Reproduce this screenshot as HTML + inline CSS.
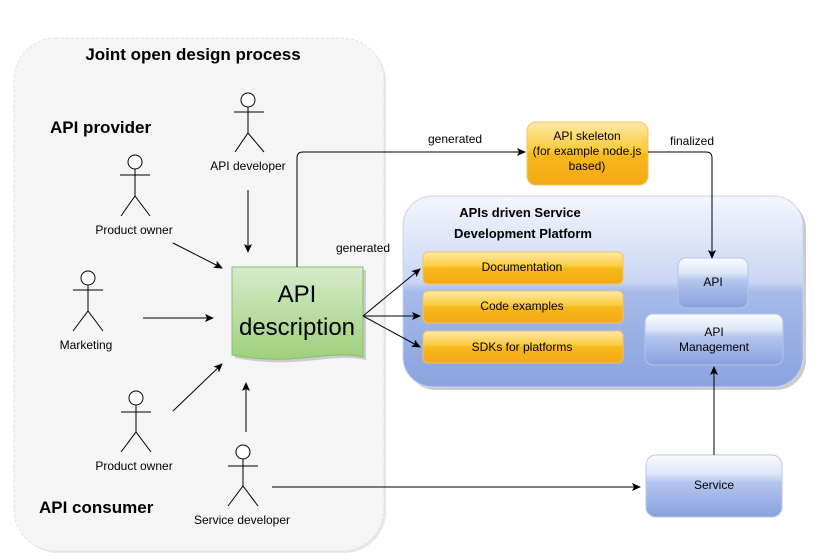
<!DOCTYPE html>
<html><head><meta charset="utf-8"><style>
html,body{margin:0;padding:0;background:#fff;}
svg{display:block;font-family:"Liberation Sans",sans-serif;}
</style></head><body>
<svg width="813" height="560" viewBox="0 0 813 560" xmlns="http://www.w3.org/2000/svg">
<defs>
<linearGradient id="og" x1="0" y1="0" x2="0" y2="1">
<stop offset="0" stop-color="#ffe9a8"/><stop offset="0.45" stop-color="#fbcb3a"/><stop offset="0.5" stop-color="#f7b918"/><stop offset="1" stop-color="#f4a918"/></linearGradient>
<linearGradient id="bg" x1="0" y1="0" x2="0" y2="1">
<stop offset="0" stop-color="#f3f6fd"/><stop offset="0.45" stop-color="#c9d6f3"/><stop offset="0.5" stop-color="#a6bbe9"/><stop offset="1" stop-color="#8aa3e0"/></linearGradient>
<linearGradient id="bbg" x1="0" y1="0" x2="0" y2="1">
<stop offset="0" stop-color="#fafcff"/><stop offset="0.3" stop-color="#dde6f8"/><stop offset="0.45" stop-color="#b3c5ee"/><stop offset="1" stop-color="#88a1df"/></linearGradient>
<linearGradient id="gg" x1="0" y1="0" x2="0" y2="1">
<stop offset="0" stop-color="#d6ebcc"/><stop offset="1" stop-color="#9ed07c"/></linearGradient>
<marker id="ar" markerWidth="10" markerHeight="10" refX="8" refY="4" orient="auto" markerUnits="userSpaceOnUse">
<path d="M0,0 L9,4 L0,8 L2,4 Z" fill="#000"/></marker>
</defs>
<rect x="16" y="40" width="370" height="513" rx="42" fill="#e6e6e6"/>
<rect x="14" y="38" width="370" height="513" rx="42" fill="#f5f5f5" stroke="#e0e0e0" stroke-dasharray="3,2"/>
<g font-weight="bold" fill="#000">
<text x="193" y="60" font-size="17" text-anchor="middle">Joint open design process</text>
<text x="50" y="133" font-size="17">API provider</text>
<text x="39" y="513" font-size="17">API consumer</text>
</g>
<g stroke="#000" stroke-width="1" fill="none">
<circle cx="248" cy="100" r="7" fill="#fff"/><path d="M248,107V133M234,112H264M235,152L248,133L264,152"/>
<circle cx="135" cy="162" r="7" fill="#fff"/><path d="M135,169V196M120,175H150M121,216L135,196L150,216"/>
<circle cx="88" cy="278" r="7" fill="#fff"/><path d="M88,285V311M73,290H103M73,331L88,311L103,331"/>
<circle cx="136" cy="398" r="7" fill="#fff"/><path d="M136,405V432M121,412H151M121,452L136,432L151,452"/>
<circle cx="243" cy="452" r="7" fill="#fff"/><path d="M243,459V486M228,466H258M228,506L243,486L258,506"/>
</g>
<g font-size="12" fill="#000" text-anchor="middle">
<text x="248" y="170">API developer</text>
<text x="134" y="234">Product owner</text>
<text x="86" y="349">Marketing</text>
<text x="134" y="470">Product owner</text>
<text x="242" y="524">Service developer</text>
</g>
<!-- blue platform -->
<rect x="406" y="199" width="400" height="191" rx="30" fill="#cccccc"/>
<rect x="403" y="196" width="400" height="191" rx="30" fill="url(#bg)" stroke="#c9d3ea"/>
<text x="520" y="217" font-size="13" font-weight="bold" text-anchor="middle">APIs driven Service</text>
<text x="523" y="238" font-size="13" font-weight="bold" text-anchor="middle">Development Platform</text>
<g stroke="#f0c36a" fill="url(#og)">
<rect x="423" y="252" width="200" height="32" rx="5"/>
<rect x="423" y="291" width="200" height="32" rx="5"/>
<rect x="423" y="331" width="200" height="32" rx="5"/>
<rect x="527" y="122" width="121" height="63" rx="9"/>
</g>
<g font-size="12" text-anchor="middle">
<text x="522" y="271">Documentation</text>
<text x="522" y="310">Code examples</text>
<text x="522" y="351">SDKs for platforms</text>
<text x="587" y="140">API skeleton</text>
<text x="587" y="155">(for example node.js</text>
<text x="587" y="170">based)</text>
</g>
<g stroke="#b5c4e8" fill="url(#bbg)">
<rect x="678" y="258" width="70" height="50" rx="8"/>
<rect x="645" y="314" width="138" height="51" rx="8"/>
<rect x="646" y="455" width="136" height="62" rx="10"/>
</g>
<g font-size="12" text-anchor="middle">
<text x="713" y="286">API</text>
<text x="714" y="336">API</text>
<text x="714" y="351">Management</text>
<text x="714" y="489">Service</text>
</g>
<!-- doc -->
<path d="M235,270H366V360C330,352 300,370 235,358Z" fill="#ccc"/>
<path d="M232,267H363V357C327,349 297,367 232,355Z" fill="url(#gg)" stroke="#86bf6a"/>
<text x="297" y="302" font-size="24" text-anchor="middle">API</text>
<text x="297" y="335" font-size="24" text-anchor="middle">description</text>
<!-- connectors -->
<g stroke="#000" stroke-width="1" fill="none" marker-end="url(#ar)">
<path d="M248,190V252"/>
<path d="M173,243L222,268"/>
<path d="M143,318H213"/>
<path d="M173,411L222,364"/>
<path d="M246,432V383"/>
<path d="M272,487H640"/>
<path d="M297,267V158Q297,152 303,152H525"/>
<path d="M648,152H706Q712,152 712,158V258"/>
<path d="M363,316L420,269"/>
<path d="M363,316H420"/>
<path d="M363,316L420,347"/>
<path d="M714,455V367"/>
</g>
<g font-size="12">
<text x="428" y="143">generated</text>
<text x="670" y="145">finalized</text>
<text x="336" y="252">generated</text>
</g>
</svg>
</body></html>
